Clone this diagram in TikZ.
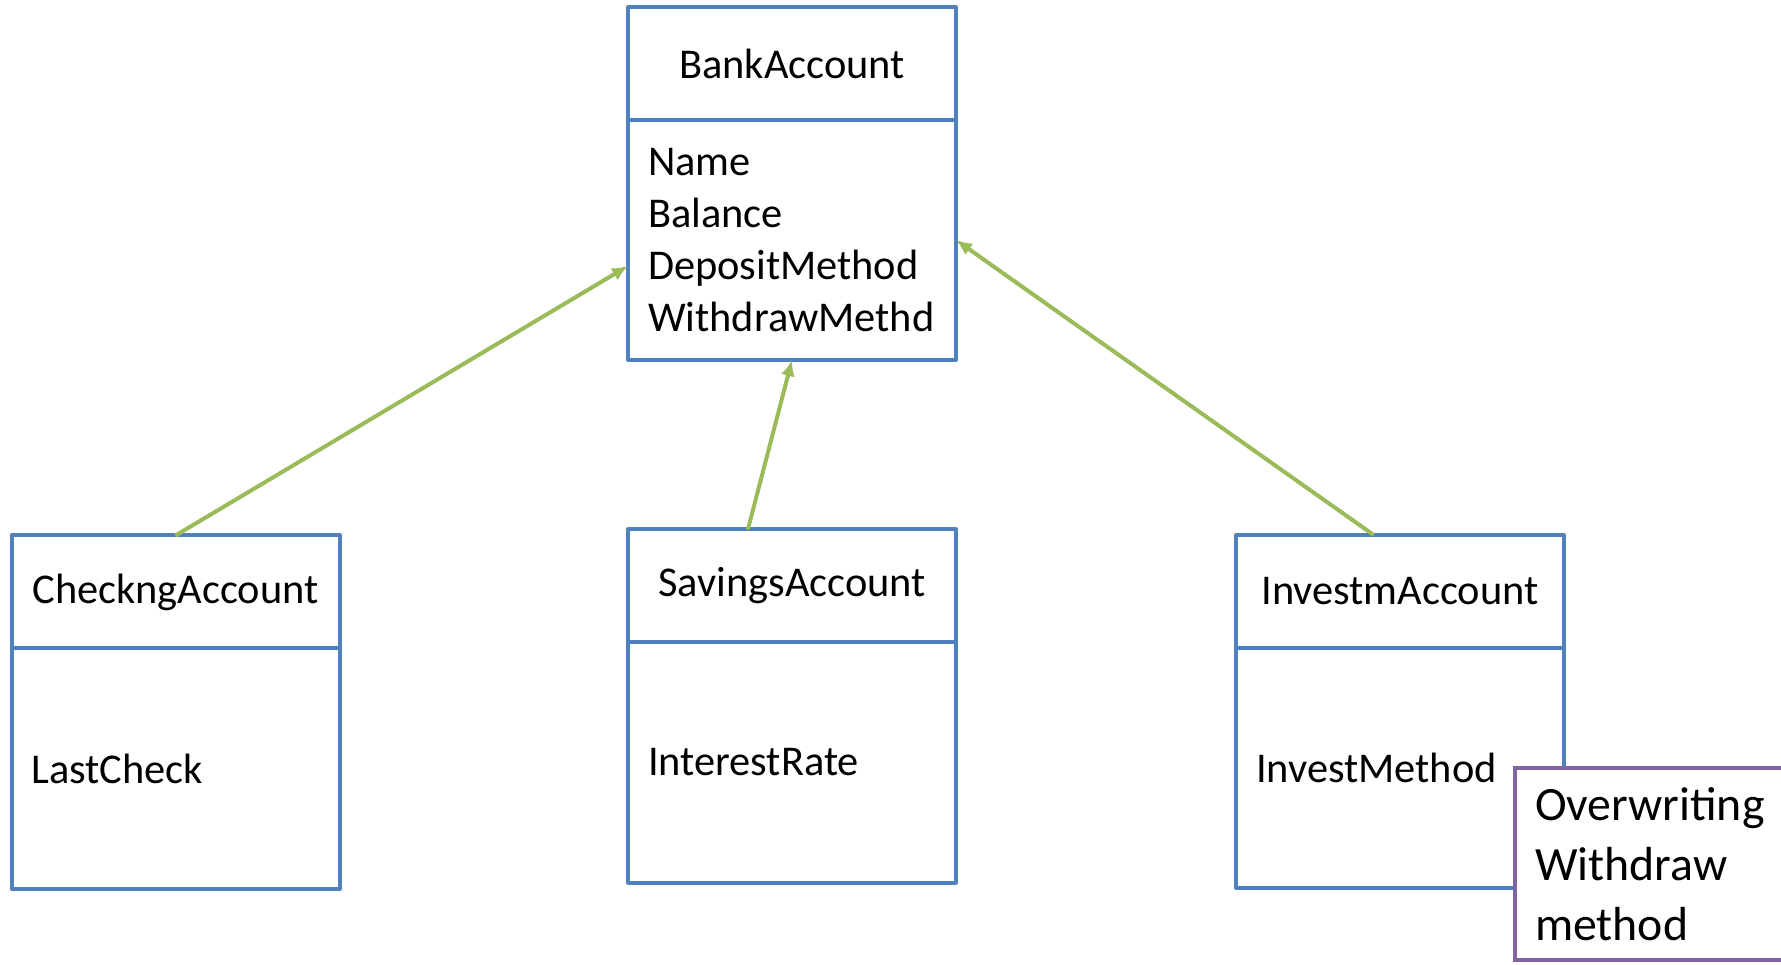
\documentclass[tikz,border=0pt]{standalone}
\usepackage{fontspec}
\setmainfont{Carlito}
\usetikzlibrary{positioning,arrows.meta}
\definecolor{umlblue}{HTML}{4F81BD}
\definecolor{inhgreen}{HTML}{9BBB59}
\definecolor{notepurple}{HTML}{8064A2}
\begin{document}
\begin{tikzpicture}[x=0.5pt,y=0.5pt,
	classtitle/.style={draw=umlblue, line width=2pt, line join=round, outer sep=0pt, inner sep=0pt,
		minimum width=164pt, minimum height=56.5pt, font=\fontsize{21.2}{25.9}\selectfont},
	classbody/.style={draw=umlblue, line width=2pt, line join=round, outer sep=0pt, inner xsep=10pt, inner ysep=0pt,
		text width=144pt, minimum height=120pt, align=left, font=\fontsize{21.2}{25.9}\selectfont},
	inherit/.style={draw=inhgreen, line width=2pt, -{Latex[length=8pt,width=7pt]}},
	notebox/.style={draw=notepurple, line width=2pt, fill=white, outer sep=0pt, inner xsep=10pt, inner ysep=0pt,
		minimum width=137.5pt, minimum height=96pt, text width=117.5pt, align=left, font=\fontsize{23.9}{30}\selectfont}]
	\useasboundingbox (0,0) rectangle (1781,964);
	\node[classtitle] (bankTitle) at (792,900.5) {BankAccount};
	\node[classbody, below=0pt of bankTitle] (bankBody) {Name\\Balance\\DepositMethod\\WithdrawMethd};
	\node[classtitle] (checkTitle) at (175.5,372) {CheckngAccount};
	\node[classbody, below=0pt of checkTitle] (checkBody) {LastCheck};
	\node[classtitle] (savTitle) at (792,378) {SavingsAccount};
	\node[classbody, below=0pt of savTitle] (savBody) {InterestRate};
	\node[classtitle] (invTitle) at (1400,372.5) {InvestmAccount};
	\node[classbody, below=0pt of invTitle] (invBody) {InvestMethod};
	\node[notebox] (overwrite) at (1652.5,100) {Overwriting\\Withdraw\\method};
	\draw[inherit] (checkTitle.north) -- (bankBody.189);
	\draw[inherit] (savTitle.128) -- (bankBody.south);
	\draw[inherit] (invTitle.115) -- (bankBody.east);
\end{tikzpicture}
\end{document}
